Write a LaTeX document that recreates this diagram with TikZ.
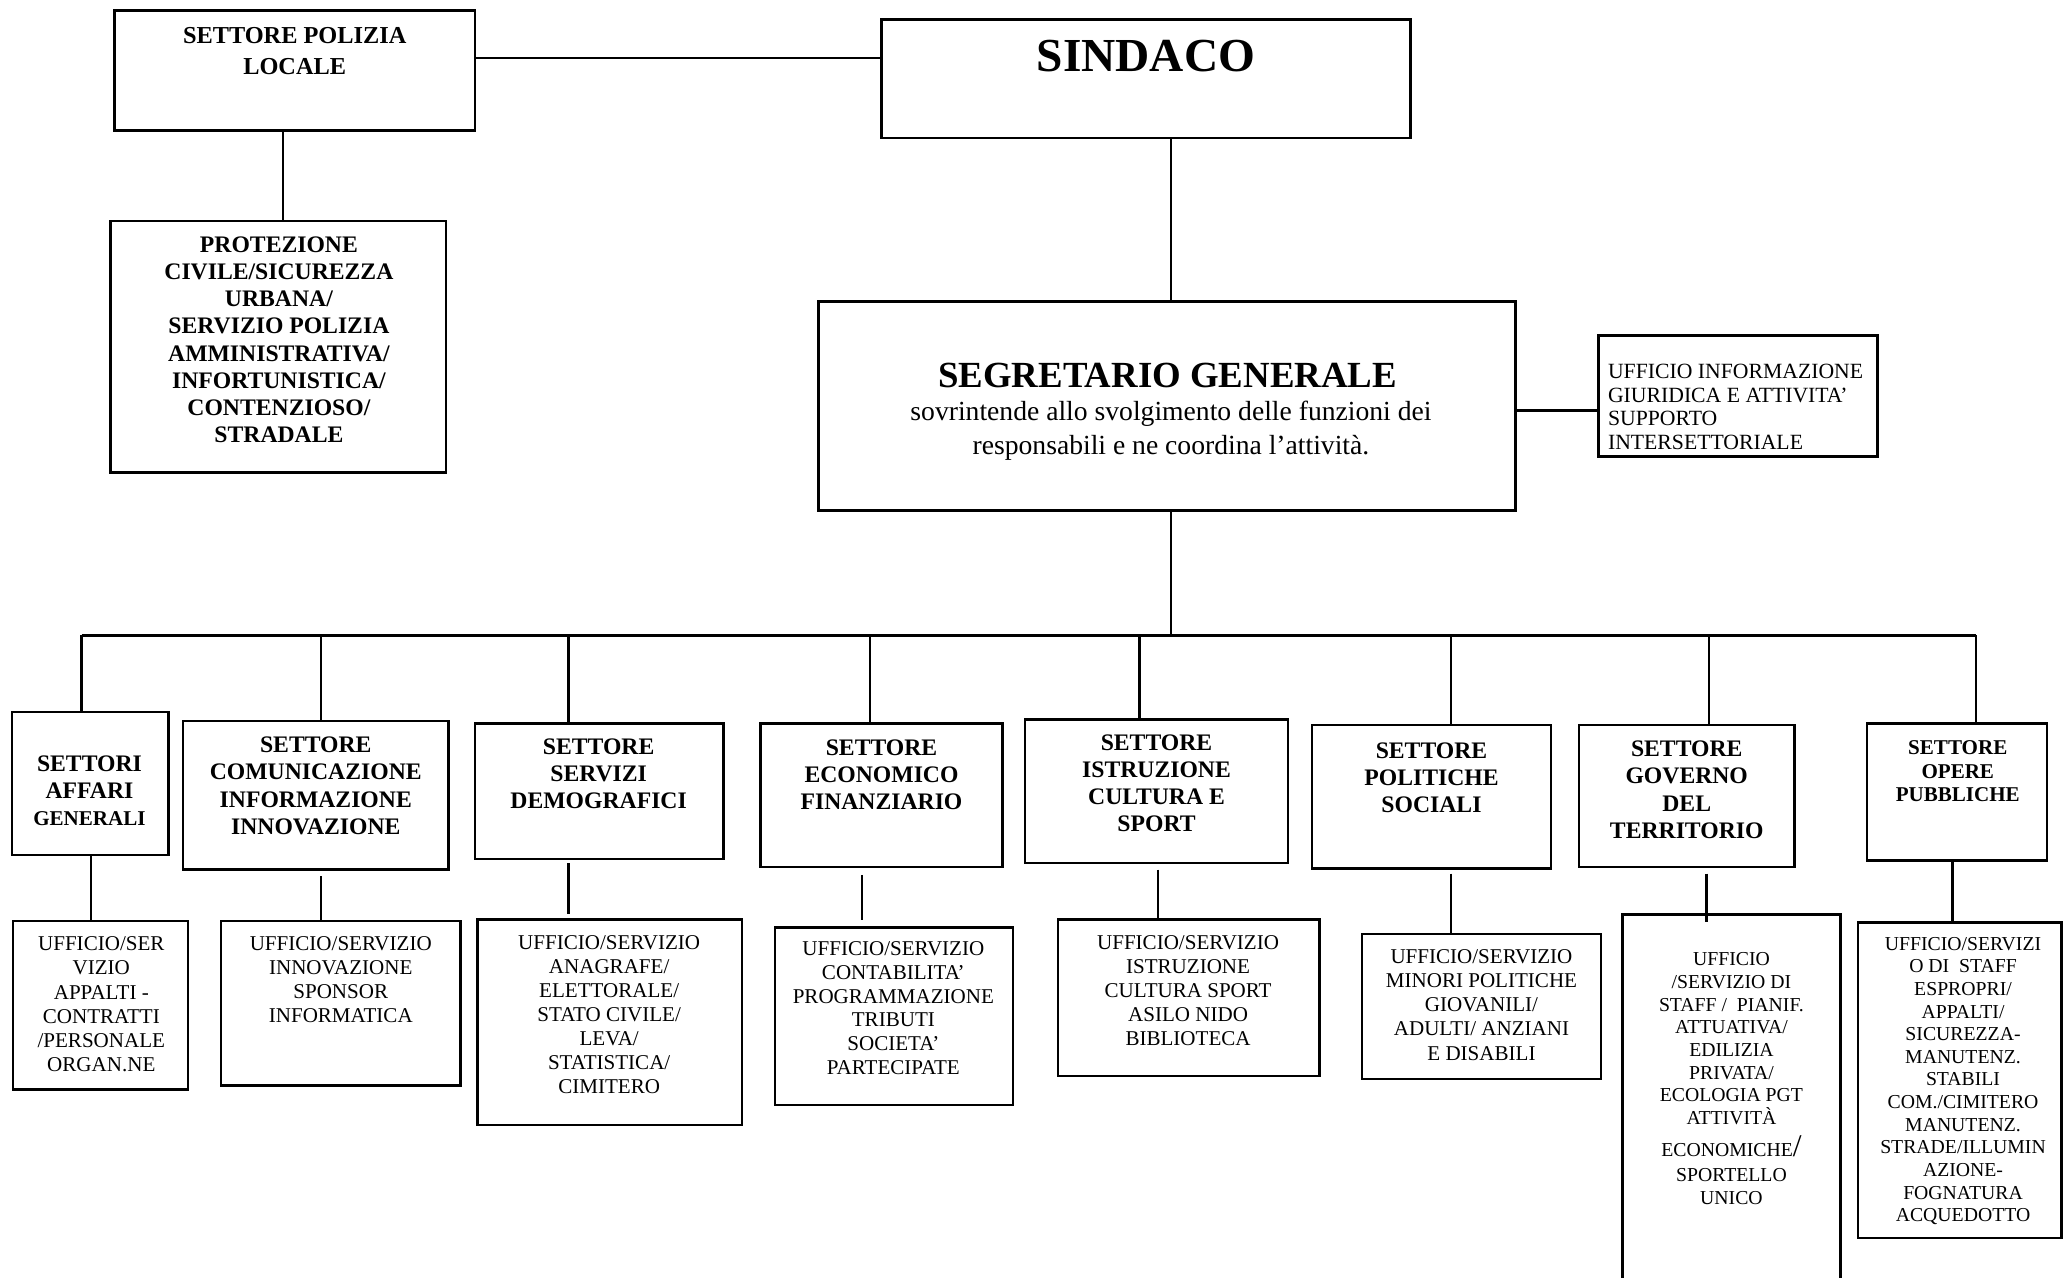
\documentclass[tikz,border=0pt]{standalone}
\usepackage{fontspec}
\setmainfont{Liberation Serif}
\begin{document}
\begin{tikzpicture}[x=1pt,y=-1pt,
  box/.style={draw, line width=1.9pt, inner sep=0pt},
  conn/.style={line width=1.7pt},
  hd/.style={font=\fontsize{18}{20.7}\selectfont\bfseries, align=center, inner sep=0pt, anchor=north},
  tx/.style={font=\fontsize{16}{18.3}\selectfont, align=center, inner sep=0pt, anchor=north},
  txs/.style={font=\fontsize{15}{17.2}\selectfont, align=center, inner sep=0pt, anchor=north}]

\useasboundingbox (0,0) rectangle (1568,971);
\fill[white] (0,0) rectangle (1568,971);

% ---------- boxes ----------
\node[box, minimum width=274pt, minimum height=91pt]  (pol)  at (224,53.5) {};
\node[box, minimum width=255pt, minimum height=191pt] (prot) at (211.5,263.5) {};
\node[box, minimum width=402pt, minimum height=90pt]  (sind) at (871,60) {};
\node[box, minimum width=530pt, minimum height=159pt] (seg)  at (887,308.5) {};
\node[box, minimum width=212pt, minimum height=92pt]  (uinf) at (1321,301) {};

\node[box, minimum width=119pt, minimum height=109pt] (s1) at (68.5,595.5) {};
\node[box, minimum width=202pt, minimum height=113pt] (s2) at (240,604.5) {};
\node[box, minimum width=189pt, minimum height=103pt] (s3) at (455.5,601.5) {};
\node[box, minimum width=184pt, minimum height=109pt] (s4) at (670,604.5) {};
\node[box, minimum width=200pt, minimum height=109pt] (s5) at (879,601.5) {};
\node[box, minimum width=182pt, minimum height=109pt] (s6) at (1088,605.5) {};
\node[box, minimum width=164pt, minimum height=108pt] (s7) at (1282,605) {};
\node[box, minimum width=137pt, minimum height=104pt] (s8) at (1487.5,602) {};

\node[box, minimum width=133pt, minimum height=128pt] (l1) at (76.5,764) {};
\node[box, minimum width=182pt, minimum height=125pt] (l2) at (259,762.5) {};
\node[box, minimum width=201pt, minimum height=156pt] (l3) at (463.5,777) {};
\node[box, minimum width=181pt, minimum height=135pt] (l4) at (679.5,772.5) {};
\node[box, minimum width=199pt, minimum height=119pt] (l5) at (903.5,758.5) {};
\node[box, minimum width=182pt, minimum height=110pt] (l6) at (1126,765) {};
\node[box, minimum width=166pt, minimum height=295pt] (l7) at (1316,842.5) {};
\node[box, minimum width=155pt, minimum height=240pt] (l8) at (1489.5,821) {};

% ---------- connectors ----------
\draw[conn] ([yshift=9.5pt]pol.east) -- ([yshift=9.5pt]pol.east -| sind.west);
\coordinate (pk) at (215,0);
\draw[conn] (pk |- pol.south) -- (pk |- prot.north);
\coordinate (sk) at (890,0);
\draw[conn] (sk |- sind.south) -- (sk |- seg.north);
\draw[conn] ([yshift=-3.5pt]seg.east) -- ([yshift=-3.5pt]seg.east -| uinf.west);
\coordinate (bus) at (890,483);
\draw[conn] (sk |- seg.south) -- (bus);
\coordinate (busL) at (62,483);
\coordinate (busR) at (1502,483);
\draw[conn] (busL) -- (busR);

\coordinate (d1) at (62,483);   \draw[conn] (d1) -- (d1 |- s1.north);
\coordinate (d2) at (244,483);  \draw[conn] (d2) -- (d2 |- s2.north);
\coordinate (d3) at (432,483);  \draw[conn] (d3) -- (d3 |- s3.north);
\coordinate (d4) at (661,483);  \draw[conn] (d4) -- (d4 |- s4.north);
\coordinate (d5) at (866,483);  \draw[conn] (d5) -- (d5 |- s5.north);
\coordinate (d6) at (1103,483); \draw[conn] (d6) -- (d6 |- s6.north);
\coordinate (d7) at (1299,483); \draw[conn] (d7) -- (d7 |- s7.north);
\coordinate (d8) at (1502,483); \draw[conn] (d8) -- (d8 |- s8.north);

\coordinate (e1) at (69,0);
\draw[conn] (e1 |- s1.south) -- (e1 |- l1.north);
\coordinate (e2a) at (244,666);  \draw[conn] (e2a) -- (e2a |- l2.north);
\coordinate (e3a) at (432,656);  \coordinate (e3b) at (432,695);  \draw[conn] (e3a) -- (e3b);
\coordinate (e4a) at (655,665);  \coordinate (e4b) at (655,699);  \draw[conn] (e4a) -- (e4b);
\coordinate (e5a) at (880,661);  \draw[conn] (e5a) -- (e5a |- l5.north);
\coordinate (e6a) at (1103,664); \draw[conn] (e6a) -- (e6a |- l6.north);
\coordinate (e7a) at (1297,664); \coordinate (e7b) at (1297,701); \draw[conn] (e7a) -- (e7b);
\coordinate (e8) at (1484,0);
\draw[conn] (e8 |- s8.south) -- (e8 |- l8.north);

% ---------- texts ----------
\node[hd, font=\fontsize{18.5}{23}\selectfont\bfseries] (tpol) at (224,20.9) {SETTORE POLIZIA\\LOCALE};
\node[hd, font=\fontsize{18}{20.57}\selectfont\bfseries] (tprot) at (212,180) {PROTEZIONE\\CIVILE/SICUREZZA\\URBANA/\\SERVIZIO POLIZIA\\AMMINISTRATIVA/\\INFORTUNISTICA/\\CONTENZIOSO/\\STRADALE};
\node[hd, font=\fontsize{36}{40}\selectfont\bfseries] (tsind) at (871,30.1) {SINDACO};
\node[hd, font=\fontsize{28}{32}\selectfont\bfseries] (tseg) at (887.5,275.7) {SEGRETARIO GENERALE};
\node[tx, font=\fontsize{21}{26}\selectfont] (tsegsub) at (890,304.7) {sovrintende allo svolgimento delle funzioni dei\\responsabili e ne coordina l\char"0027 attività.};
\node[font=\fontsize{16.5}{18}\selectfont, align=left, inner sep=0pt, anchor=north west] (tuinf) at (1222,276.5) {UFFICIO INFORMAZIONE\\GIURIDICA E ATTIVITA’\\SUPPORTO\\INTERSETTORIALE};

\node[hd] (ts1) at (68,574) {SETTORI\\AFFARI\\{\fontsize{16}{18}\selectfont GENERALI}};
\node[hd] (ts2) at (240,560) {SETTORE\\COMUNICAZIONE\\INFORMAZIONE\\INNOVAZIONE};
\node[hd] (ts3) at (455,561) {SETTORE\\SERVIZI\\DEMOGRAFICI};
\node[hd] (ts4) at (670,562) {SETTORE\\ECONOMICO\\FINANZIARIO};
\node[hd] (ts5) at (879,558) {SETTORE\\ISTRUZIONE\\CULTURA E\\SPORT};
\node[hd] (ts6) at (1088,564) {SETTORE\\POLITICHE\\SOCIALI};
\node[hd] (ts7) at (1282,563) {SETTORE\\GOVERNO\\DEL\\TERRITORIO};
\node[hd, font=\fontsize{16}{18}\selectfont\bfseries] (ts8) at (1488,562.7) {SETTORE\\OPERE\\PUBBLICHE};

\node[tx, font=\fontsize{16}{18.4}\selectfont] (tl1) at (77,711.7) {UFFICIO/SER\\VIZIO\\APPALTI -\\CONTRATTI\\/PERSONALE\\ORGAN.NE};
\node[tx] (tl2) at (259,711.7) {UFFICIO/SERVIZIO\\INNOVAZIONE\\SPONSOR\\INFORMATICA};
\node[tx] (tl3) at (463,710.7) {UFFICIO/SERVIZIO\\ANAGRAFE/\\ELETTORALE/\\STATO CIVILE/\\LEVA/\\STATISTICA/\\CIMITERO};
\node[tx, font=\fontsize{16}{18}\selectfont] (tl4) at (679,715.7) {UFFICIO/SERVIZIO\\CONTABILITA’\\PROGRAMMAZIONE\\TRIBUTI\\SOCIETA’\\PARTECIPATE};
\node[tx] (tl5) at (903,710.7) {UFFICIO/SERVIZIO\\ISTRUZIONE\\CULTURA SPORT\\ASILO NIDO\\BIBLIOTECA};
\node[tx] (tl6) at (1126,721.7) {UFFICIO/SERVIZIO\\MINORI POLITICHE\\GIOVANILI/\\ADULTI/ ANZIANI\\E DISABILI};
\node[txs] (tl7) at (1316,724) {UFFICIO\\/SERVIZIO DI\\STAFF / \ PIANIF.\\ATTUATIVA/\\EDILIZIA\\PRIVATA/\\ECOLOGIA PGT\\ATTIVITÀ\\[7pt]ECONOMICHE{\fontsize{24}{24}\selectfont/}\\[2pt]SPORTELLO\\UNICO};
\node[txs] (tl8) at (1492,712) {UFFICIO/SERVIZI\\O DI \ STAFF\\ESPROPRI/\\APPALTI/\\SICUREZZA-\\MANUTENZ.\\STABILI\\COM./CIMITERO\\MANUTENZ.\\STRADE/ILLUMIN\\AZIONE-\\FOGNATURA\\ACQUEDOTTO};

\end{tikzpicture}
\end{document}
